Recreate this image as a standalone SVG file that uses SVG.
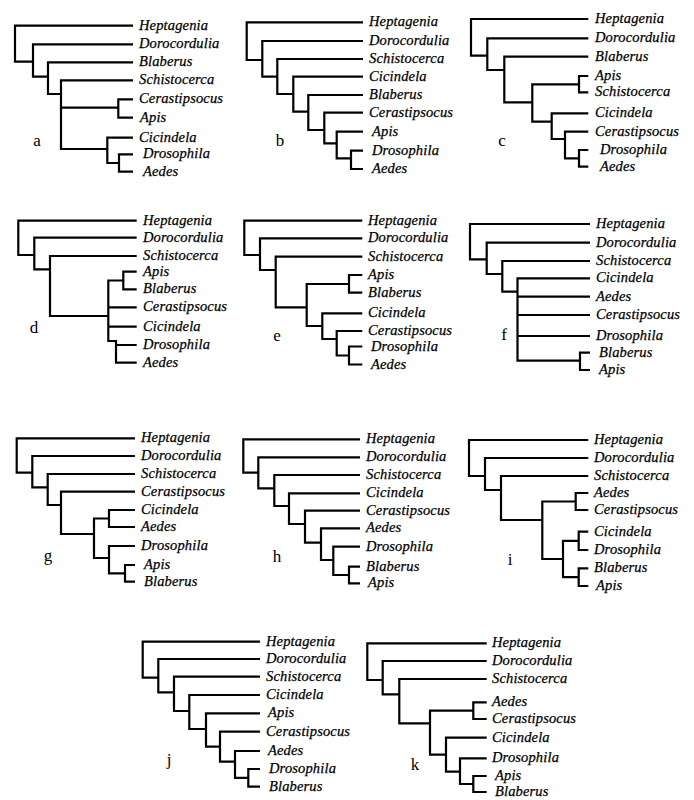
<svg xmlns="http://www.w3.org/2000/svg" width="694" height="800" viewBox="0 0 694 800">
<style>
.br{fill:none;stroke:#000;stroke-width:2.2;stroke-linejoin:miter;stroke-linecap:butt}
.t{font-family:"Liberation Serif","Times New Roman",serif;font-style:italic;font-size:14.5px;letter-spacing:0.15px;fill:#000;stroke:#000;stroke-width:0.25}
.lab{font-family:"Liberation Serif","Times New Roman",serif;font-size:17px;fill:#000;text-anchor:middle}
</style>
<rect width="694" height="800" fill="#fff"/>
<g id="connectors">
<path id="edges-a" class="br" d="M133,25.7 H15 V61.7 H33 M133,44.3 H33 V76.7 H48 M133,62.3 H48 V94 H61 M133,80.3 H61 V149 H107.3 M61,107.7 H118.3 M133,99.3 H118.3 V117.7 H133 M133,137.7 H107.3 V163 H119 M133,154.3 H119 V171.7 H133"/>
<path id="edges-b" class="br" d="M363,22.3 H246.7 V60 H262.3 M363,41 H262.3 V76.7 H277.3 M363,59 H277.3 V94 H293.3 M363,76.7 H293.3 V111.7 H308.3 M363,95 H308.3 V130 H324.3 M363,112.7 H324.3 V143.3 H336.7 M363,131.7 H336.7 V158.3 H351 M363,150.7 H351 V169 H363"/>
<path id="edges-c" class="br" d="M588.3,19 H471 V55.7 H487.3 M588.3,38.3 H487.3 V70 H504.3 M588.3,56.7 H504.3 V102.3 H532.3 M579,84.3 H532.3 V121.7 H551.7 M588.3,76 H579 V92.3 H588.3 M588.3,113.3 H551.7 V139 H565 M588.3,131.7 H565 V158.3 H579 M588.3,150 H579 V166.7 H588.3"/>
<path id="edges-d" class="br" d="M136.7,220.7 H18.3 V255 H34.3 M136.7,237.7 H34.3 V269.3 H50 M136.7,256 H50 V316 H108.3 M123.3,280.5 H108.3 V341 H116 V362.7 H136.7 M136.7,271.7 H123.3 V289.3 H136.7 M108.3,307.3 H136.7 M108.3,326.7 H136.7 M116,345 H136.7"/>
<path id="edges-e" class="br" d="M362.3,220.7 H244.3 V255 H260 M362.3,238.3 H260 V270 H275.7 M362.3,256.7 H275.7 V307.3 H306.7 M349,284 H306.7 V326 H322.3 M362.3,275 H349 V292.7 H362.3 M362.3,313.3 H322.3 V339 H336.7 M362.3,331 H336.7 V355.5 H349 M362.3,346.5 H349 V364.5 H362.3"/>
<path id="edges-f" class="br" d="M590,224 H470 V259.3 H486.7 M590,242.7 H486.7 V274 H502.3 M590,261 H502.3 V291.7 H517.5 M590,278.3 H517.5 V360.7 H580 M517.5,296.7 H590 M517.5,315 H590 M517.5,336 H590 M590,352.7 H580 V370 H590"/>
<path id="edges-g" class="br" d="M135,438.3 H16.7 V472.7 H32.3 M135,456 H32.3 V487.3 H47.7 M135,474 H47.7 V505 H61 M135,491.7 H61 V534 H94 M109,518.5 H94 V558 H109 M135,510 H109 V527 H135 M135,546 H109 V573.3 H125 M135,565 H125 V581.7 H135"/>
<path id="edges-h" class="br" d="M360,439.3 H243.3 V472.7 H258.3 M360,457.3 H258.3 V488.3 H274.3 M360,475 H274.3 V506 H289 M360,493.3 H289 V524 H305 M360,510.7 H305 V542.7 H321 M360,528.3 H321 V560 H333.3 M360,546.7 H333.3 V575 H349 M360,566.7 H349 V583.3 H360"/>
<path id="edges-i" class="br" d="M588.3,440 H469 V476 H485 M588.3,458 H485 V490 H501 M588.3,476 H501 V520 H542.3 M575.7,501.5 H542.3 V559 H563 M588.3,493 H575.7 V510 H588.3 M578.7,540.8 H563 V577.2 H578.7 M588.3,531.7 H578.7 V550 H588.3 M588.3,568.3 H578.7 V586 H588.3"/>
<path id="edges-j" class="br" d="M260,641.7 H142.7 V677.7 H158.3 M260,659 H158.3 V692.3 H174 M260,676.7 H174 V711 H189.3 M260,695 H189.3 V729 H206 M260,713.3 H206 V746.7 H220 M260,731.7 H220 V761.7 H235 M260,751 H235 V777.8 H248.3 M260,769 H248.3 V786.7 H260"/>
<path id="edges-k" class="br" d="M486.7,643.3 H367.3 V680 H382.7 M486.7,661 H382.7 V694.3 H399.3 M486.7,679 H399.3 V723.3 H430 M473.3,710.7 H430 V754.7 H446 M486.7,702.3 H473.3 V719 H486.7 M486.7,737.7 H446 V771.7 H460 M486.7,758.3 H460 V784 H473.3 M486.7,776 H473.3 V792 H486.7"/>
</g>
<g id="tree-a">
<text class="t" x="139" y="29.7">Heptagenia</text>
<text class="t" x="139" y="48.3">Dorocordulia</text>
<text class="t" x="139" y="66.3">Blaberus</text>
<text class="t" x="139" y="84.3">Schistocerca</text>
<text class="t" x="139" y="103.3">Cerastipsocus</text>
<text class="t" x="140" y="121.7">Apis</text>
<text class="t" x="139" y="141.7">Cicindela</text>
<text class="t" x="143" y="158.3">Drosophila</text>
<text class="t" x="143" y="175.7">Aedes</text>
<text class="lab" x="37" y="146">a</text>
</g>
<g id="tree-b">
<text class="t" x="369" y="26.3">Heptagenia</text>
<text class="t" x="369" y="45">Dorocordulia</text>
<text class="t" x="369" y="63">Schistocerca</text>
<text class="t" x="369" y="80.7">Cicindela</text>
<text class="t" x="369" y="99">Blaberus</text>
<text class="t" x="369" y="116.7">Cerastipsocus</text>
<text class="t" x="372" y="135.7">Apis</text>
<text class="t" x="372" y="154.7">Drosophila</text>
<text class="t" x="372" y="173">Aedes</text>
<text class="lab" x="280" y="146">b</text>
</g>
<g id="tree-c">
<text class="t" x="595" y="23">Heptagenia</text>
<text class="t" x="595" y="42.3">Dorocordulia</text>
<text class="t" x="595" y="60.7">Blaberus</text>
<text class="t" x="595" y="80">Apis</text>
<text class="t" x="595" y="96.3">Schistocerca</text>
<text class="t" x="595" y="117.3">Cicindela</text>
<text class="t" x="595" y="135.7">Cerastipsocus</text>
<text class="t" x="600" y="154">Drosophila</text>
<text class="t" x="600" y="170.7">Aedes</text>
<text class="lab" x="502" y="146">c</text>
</g>
<g id="tree-d">
<text class="t" x="143" y="224.7">Heptagenia</text>
<text class="t" x="143" y="241.7">Dorocordulia</text>
<text class="t" x="143" y="260">Schistocerca</text>
<text class="t" x="143" y="275.7">Apis</text>
<text class="t" x="143" y="293.3">Blaberus</text>
<text class="t" x="143" y="311.3">Cerastipsocus</text>
<text class="t" x="143" y="330.7">Cicindela</text>
<text class="t" x="143" y="349">Drosophila</text>
<text class="t" x="143" y="366.7">Aedes</text>
<text class="lab" x="34" y="333">d</text>
</g>
<g id="tree-e">
<text class="t" x="368" y="224.7">Heptagenia</text>
<text class="t" x="368" y="242.3">Dorocordulia</text>
<text class="t" x="368" y="260.7">Schistocerca</text>
<text class="t" x="368" y="279">Apis</text>
<text class="t" x="368" y="296.7">Blaberus</text>
<text class="t" x="368" y="317.3">Cicindela</text>
<text class="t" x="368" y="335">Cerastipsocus</text>
<text class="t" x="371" y="350.5">Drosophila</text>
<text class="t" x="371" y="368.5">Aedes</text>
<text class="lab" x="277" y="341">e</text>
</g>
<g id="tree-f">
<text class="t" x="596" y="228">Heptagenia</text>
<text class="t" x="596" y="246.7">Dorocordulia</text>
<text class="t" x="596" y="265">Schistocerca</text>
<text class="t" x="596" y="282.3">Cicindela</text>
<text class="t" x="596" y="300.7">Aedes</text>
<text class="t" x="596" y="319">Cerastipsocus</text>
<text class="t" x="596" y="340">Drosophila</text>
<text class="t" x="599" y="356.7">Blaberus</text>
<text class="t" x="599" y="374">Apis</text>
<text class="lab" x="504" y="340">f</text>
</g>
<g id="tree-g">
<text class="t" x="141" y="442.3">Heptagenia</text>
<text class="t" x="141" y="460">Dorocordulia</text>
<text class="t" x="141" y="478">Schistocerca</text>
<text class="t" x="141" y="495.7">Cerastipsocus</text>
<text class="t" x="141" y="514">Cicindela</text>
<text class="t" x="141" y="531">Aedes</text>
<text class="t" x="141" y="550">Drosophila</text>
<text class="t" x="144" y="569">Apis</text>
<text class="t" x="144" y="585.7">Blaberus</text>
<text class="lab" x="48" y="561">g</text>
</g>
<g id="tree-h">
<text class="t" x="366" y="443.3">Heptagenia</text>
<text class="t" x="366" y="461.3">Dorocordulia</text>
<text class="t" x="366" y="479">Schistocerca</text>
<text class="t" x="366" y="497.3">Cicindela</text>
<text class="t" x="366" y="514.7">Cerastipsocus</text>
<text class="t" x="366" y="532.3">Aedes</text>
<text class="t" x="366" y="550.7">Drosophila</text>
<text class="t" x="366" y="570.7">Blaberus</text>
<text class="t" x="368" y="587.3">Apis</text>
<text class="lab" x="277" y="562">h</text>
</g>
<g id="tree-i">
<text class="t" x="594" y="444">Heptagenia</text>
<text class="t" x="594" y="462">Dorocordulia</text>
<text class="t" x="594" y="480">Schistocerca</text>
<text class="t" x="594" y="497">Aedes</text>
<text class="t" x="594" y="514">Cerastipsocus</text>
<text class="t" x="594" y="535.7">Cicindela</text>
<text class="t" x="594" y="554">Drosophila</text>
<text class="t" x="594" y="572.3">Blaberus</text>
<text class="t" x="596" y="590">Apis</text>
<text class="lab" x="510" y="565">i</text>
</g>
<g id="tree-j">
<text class="t" x="266" y="645.7">Heptagenia</text>
<text class="t" x="266" y="663">Dorocordulia</text>
<text class="t" x="266" y="680.7">Schistocerca</text>
<text class="t" x="266" y="699">Cicindela</text>
<text class="t" x="268" y="717.3">Apis</text>
<text class="t" x="266" y="735.7">Cerastipsocus</text>
<text class="t" x="268" y="755">Aedes</text>
<text class="t" x="269" y="773">Drosophila</text>
<text class="t" x="269" y="790.7">Blaberus</text>
<text class="lab" x="169" y="765">j</text>
</g>
<g id="tree-k">
<text class="t" x="492" y="647.3">Heptagenia</text>
<text class="t" x="492" y="665">Dorocordulia</text>
<text class="t" x="492" y="683">Schistocerca</text>
<text class="t" x="492" y="706.3">Aedes</text>
<text class="t" x="492" y="723">Cerastipsocus</text>
<text class="t" x="492" y="741.7">Cicindela</text>
<text class="t" x="492" y="762.3">Drosophila</text>
<text class="t" x="495" y="780">Apis</text>
<text class="t" x="495" y="796">Blaberus</text>
<text class="lab" x="415" y="770">k</text>
</g>
</svg>
